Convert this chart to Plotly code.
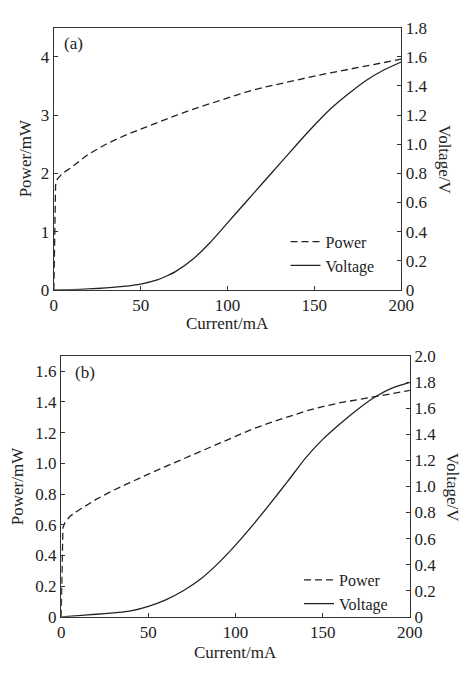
import plotly.graph_objects as go

# ---------------- data ----------------
# Panel (a)
current_power_a = [0, 0.5, 1, 2, 5, 10, 20, 30, 40, 50, 60, 70, 80, 90, 100, 110, 120, 130, 140, 150, 160, 170, 180, 190, 200]
power_a = [0, 1.0, 1.8, 1.9, 2.0, 2.1, 2.33, 2.5, 2.64, 2.76, 2.88, 2.99, 3.1, 3.2, 3.3, 3.39, 3.47, 3.54, 3.61, 3.67, 3.73, 3.79, 3.85, 3.905, 3.96]

current_voltage_a = [0, 10, 20, 30, 40, 50, 60, 65, 70, 80, 90, 100, 110, 120, 130, 140, 150, 160, 170, 180, 190, 200]
voltage_a = [0, 0.002, 0.006, 0.013, 0.024, 0.04, 0.07, 0.095, 0.125, 0.21, 0.325, 0.46, 0.595, 0.73, 0.865, 1.0, 1.13, 1.25, 1.35, 1.44, 1.51, 1.565]

# Panel (b)
current_power_b = [0, 1, 2, 5, 10, 20, 30, 40, 50, 60, 70, 80, 90, 100, 110, 120, 130, 140, 150, 160, 170, 180, 190, 200]
power_b = [0, 0.58, 0.61, 0.655, 0.695, 0.765, 0.825, 0.88, 0.93, 0.98, 1.03, 1.08, 1.13, 1.18, 1.225, 1.265, 1.305, 1.34, 1.37, 1.395, 1.415, 1.435, 1.455, 1.475]

current_voltage_b = [0, 10, 20, 30, 35, 40, 50, 60, 70, 80, 90, 100, 110, 120, 130, 140, 150, 160, 170, 180, 190, 200]
voltage_b = [0, 0.01, 0.02, 0.03, 0.036, 0.045, 0.08, 0.13, 0.2, 0.29, 0.41, 0.55, 0.705, 0.87, 1.04, 1.215, 1.36, 1.48, 1.59, 1.685, 1.755, 1.797]

# ticks
x_ticks = [0, 50, 100, 150, 200]
power_ticks_a = [0, 1, 2, 3, 4]
voltage_ticks_a = [0, 0.2, 0.4, 0.6, 0.8, 1.0, 1.2, 1.4, 1.6, 1.8]
voltage_ticklabels_a = ["0", "0.2", "0.4", "0.6", "0.8", "1.0", "1.2", "1.4", "1.6", "1.8"]
power_ticks_b = [0, 0.2, 0.4, 0.6, 0.8, 1.0, 1.2, 1.4, 1.6]
power_ticklabels_b = ["0", "0.2", "0.4", "0.6", "0.8", "1.0", "1.2", "1.4", "1.6"]
voltage_ticks_b = [0, 0.2, 0.4, 0.6, 0.8, 1.0, 1.2, 1.4, 1.6, 1.8, 2.0]
voltage_ticklabels_b = ["0", "0.2", "0.4", "0.6", "0.8", "1.0", "1.2", "1.4", "1.6", "1.8", "2.0"]

# ---------------- style ----------------
W, H = 473, 673
FONT = "Liberation Serif"
INK = "#222222"
AX = "#333333"
DASH = "7px,4px"

def px_x(v):
    return v / W

def px_y(v):
    return 1 - v / H

axis_common = dict(
    showline=True, linecolor=AX, linewidth=1.3,
    ticks="inside", ticklen=4, tickwidth=1.1, tickcolor=AX,
    showgrid=False, zeroline=False,
    tickfont=dict(family=FONT, size=17, color=INK),
)

fig = go.Figure()

fig.add_trace(go.Scatter(x=current_power_a, y=power_a, name="Power", mode="lines",
                         line=dict(color=INK, width=1.3, dash=DASH),
                         xaxis="x", yaxis="y", legend="legend"))
fig.add_trace(go.Scatter(x=current_voltage_a, y=voltage_a, name="Voltage", mode="lines",
                         line=dict(color=INK, width=1.3, shape="spline", smoothing=0.5),
                         xaxis="x", yaxis="y2", legend="legend"))
fig.add_trace(go.Scatter(x=current_power_b, y=power_b, name="Power", mode="lines",
                         line=dict(color=INK, width=1.3, dash=DASH),
                         xaxis="x2", yaxis="y3", legend="legend2"))
fig.add_trace(go.Scatter(x=current_voltage_b, y=voltage_b, name="Voltage", mode="lines",
                         line=dict(color=INK, width=1.3, shape="spline", smoothing=0.5),
                         xaxis="x2", yaxis="y4", legend="legend2"))

xa_dom = [px_x(51.7), px_x(412)]
ya_dom = [px_y(289), px_y(19.3)]
xb_dom = [px_x(59.3), px_x(421)]
yb_dom = [px_y(625.5), px_y(357)]

legend_common = dict(font=dict(family=FONT, size=16, color=INK), bgcolor="rgba(0,0,0,0)",
                     xanchor="left", yanchor="top", tracegroupgap=0, itemwidth=30)

fig.update_layout(
    width=W, height=H,
    margin=dict(l=0, r=0, t=0, b=0),
    paper_bgcolor="white", plot_bgcolor="white",
    font=dict(family=FONT, size=17, color=INK),
    xaxis=dict(axis_common, domain=xa_dom, anchor="y", range=[0, 200], tickvals=x_ticks, mirror=True),
    yaxis=dict(axis_common, domain=ya_dom, anchor="x", range=[0, 4.5], tickvals=power_ticks_a, mirror=True),
    yaxis2=dict(axis_common, overlaying="y", side="right", anchor="x", range=[0, 1.8],
                tickvals=voltage_ticks_a, ticktext=voltage_ticklabels_a),
    xaxis2=dict(axis_common, domain=xb_dom, anchor="y3", range=[0, 200], tickvals=x_ticks, mirror=True),
    yaxis3=dict(axis_common, domain=yb_dom, anchor="x2", range=[0, 1.7],
                tickvals=power_ticks_b, ticktext=power_ticklabels_b, mirror=True),
    yaxis4=dict(axis_common, overlaying="y3", side="right", anchor="x2", range=[0, 2.0],
                tickvals=voltage_ticks_b, ticktext=voltage_ticklabels_b),
    legend=dict(legend_common, x=px_x(292), y=px_y(222)),
    legend2=dict(legend_common, x=px_x(306), y=px_y(570)),
)

ann_font = dict(family=FONT, size=17, color=INK)
annotations = [
    dict(text="(a)", x=px_x(60), y=px_y(35), xanchor="left", yanchor="middle"),
    dict(text="(b)", x=px_x(72), y=px_y(374), xanchor="left", yanchor="middle"),
    dict(text="Power/mW", x=px_x(22.5), y=px_y(154), textangle=-90),
    dict(text="Power/mW", x=px_x(13.5), y=px_y(491), textangle=-90),
    dict(text="Voltage/V", x=px_x(457), y=px_y(155), textangle=90),
    dict(text="Voltage/V", x=px_x(466), y=px_y(492), textangle=90),
    dict(text="Current/mA", x=px_x(232), y=px_y(323.5)),
    dict(text="Current/mA", x=px_x(240), y=px_y(662.5)),
]
for a in annotations:
    a.setdefault("xanchor", "center")
    a.setdefault("yanchor", "middle")
    fig.add_annotation(xref="paper", yref="paper", showarrow=False, font=ann_font, **a)

fig.write_html("out.html")
